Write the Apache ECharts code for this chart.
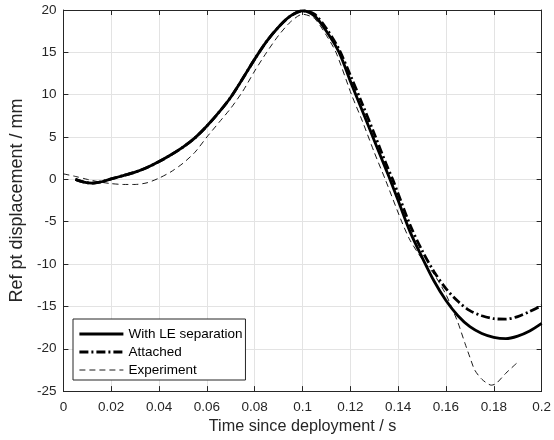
<!DOCTYPE html>
<html>
<head>
<meta charset="utf-8">
<script src="https://cdn.jsdelivr.net/npm/echarts@6/dist/echarts.min.js"></script>
<style>html,body{margin:0;padding:0;background:#fff;}#c{width:554px;height:440px;}</style>
</head>
<body>
<div id="c"></div>
<script>
var seriesNames = ['With LE separation', 'Attached', 'Experiment'];

var timeLE = [0.005,0.0085,0.012,0.016,0.02,0.025,0.03,0.035,0.04,0.045,0.05,0.055,0.06,0.065,0.07,0.075,0.08,0.085,0.09,0.095,0.1,0.105,0.11,0.1153,0.12,0.125,0.13,0.135,0.1366,0.14,0.145,0.15,0.155,0.16,0.165,0.17,0.175,0.18,0.185,0.19,0.195,0.2];
var dispLE = [0.0,-0.32,-0.45,-0.28,0.05,0.45,0.85,1.4,2.1,2.9,3.8,4.9,6.3,7.9,9.7,11.9,14.2,16.3,18.0,19.3,19.9,19.3,17.5,15.0,11.6,8.1,4.6,1.1,0.0,-2.5,-6.2,-9.2,-12.0,-14.3,-16.1,-17.4,-18.2,-18.65,-18.8,-18.5,-17.9,-17.0];

var timeAtt = [0.005,0.0085,0.012,0.016,0.02,0.025,0.03,0.035,0.04,0.045,0.05,0.055,0.06,0.065,0.07,0.075,0.08,0.085,0.09,0.095,0.1,0.105,0.11,0.115,0.12,0.125,0.13,0.135,0.1377,0.14,0.145,0.15,0.155,0.16,0.165,0.17,0.175,0.18,0.185,0.19,0.195,0.2];
var dispAtt = [0.0,-0.32,-0.45,-0.28,0.05,0.45,0.85,1.4,2.1,2.9,3.8,4.9,6.3,7.9,9.7,11.9,14.2,16.3,18.0,19.3,19.9,19.5,17.8,15.5,12.3,8.9,5.4,1.8,0.0,-1.7,-5.4,-8.4,-10.9,-12.9,-14.4,-15.5,-16.1,-16.45,-16.5,-16.2,-15.6,-14.9];

var timeExp = [0.0,0.005,0.01,0.015,0.02,0.025,0.03,0.035,0.04,0.045,0.05,0.055,0.06,0.065,0.07,0.075,0.08,0.085,0.09,0.095,0.1,0.105,0.11,0.114,0.1205,0.125,0.13,0.1346,0.1415,0.145,0.15,0.155,0.16,0.1628,0.165,0.168,0.17,0.172,0.175,0.179,0.181,0.185,0.1896];
var dispExp = [0.65,0.35,0.0,-0.3,-0.5,-0.6,-0.6,-0.4,0.15,0.9,1.9,3.2,5.0,6.7,8.4,10.4,12.8,15.0,17.0,18.6,19.5,19.0,17.0,15.0,10.0,6.9,3.2,0.0,-5.0,-7.2,-9.4,-11.2,-13.6,-15.4,-16.9,-19.4,-21.0,-22.5,-23.6,-24.3,-24.1,-22.9,-21.7];

var xMin = 0, xMax = 0.2, xStep = 0.02;
var yMin = -25, yMax = 20, yStep = 5;

function zip(a, b) { return a.map(function (v, i) { return [v, b[i]]; }); }

var axisColor = '#262626';
var gridColor = '#e3e3e3';
var font = 'Liberation Sans, Arial, Helvetica, sans-serif';
var hidden = 'rgba(0,0,0,0)';
var styleLE = { color: '#000', width: 2.8, type: 'solid' };
var styleAtt = { color: '#000', width: 2.8, type: [9, 3, 2, 3] };
var styleExp = { color: '#000', width: 0.9, type: [6, 4] };

var chart = echarts.init(document.getElementById('c'), null, { renderer: 'canvas' });
chart.setOption({
  animation: false,
  backgroundColor: '#ffffff',
  grid: { left: 62, right: 7, top: 10, bottom: 48, containLabel: false },
  legend: {
    orient: 'vertical',
    left: 73, top: 319,
    padding: [8, 3, 3, 5],
    itemGap: 4,
    itemWidth: 44,
    itemHeight: 15,
    backgroundColor: '#ffffff',
    borderColor: axisColor,
    borderWidth: 1,
    borderRadius: 0,
    itemStyle: { color: hidden, borderWidth: 0, opacity: 0 },
    textStyle: { fontFamily: font, fontSize: 13.5, color: '#000' },
    data: [
      { name: seriesNames[0], lineStyle: styleLE },
      { name: seriesNames[1], lineStyle: styleAtt },
      { name: seriesNames[2], lineStyle: styleExp }
    ]
  },
  xAxis: [{
    type: 'value', min: xMin, max: xMax, interval: xStep,
    name: 'Time since deployment / s', nameLocation: 'middle', nameGap: 26,
    nameTextStyle: { fontFamily: font, fontSize: 16.2, color: axisColor },
    axisLine: { show: true, onZero: false, lineStyle: { color: axisColor, width: 1 } },
    axisTick: { show: true, inside: true, length: 5, lineStyle: { color: axisColor } },
    axisLabel: { fontFamily: font, fontSize: 13.5, color: axisColor, margin: 9,
      formatter: function (v) { return String(parseFloat(v.toFixed(2))); } },
    splitLine: { show: true, lineStyle: { color: gridColor, width: 1 } }
  }, {
    type: 'value', position: 'top', min: xMin, max: xMax, interval: xStep,
    axisLine: { show: true, onZero: false, lineStyle: { color: axisColor, width: 1 } },
    axisTick: { show: true, inside: true, length: 5, lineStyle: { color: axisColor } },
    axisLabel: { show: false }, splitLine: { show: false }
  }],
  yAxis: [{
    type: 'value', min: yMin, max: yMax, interval: yStep,
    name: 'Ref pt displacement / mm', nameLocation: 'middle', nameGap: 34,
    nameTextStyle: { fontFamily: font, fontSize: 18, color: axisColor },
    axisLine: { show: true, onZero: false, lineStyle: { color: axisColor, width: 1 } },
    axisTick: { show: true, inside: true, length: 5, lineStyle: { color: axisColor } },
    axisLabel: { fontFamily: font, fontSize: 13.5, color: axisColor, margin: 7 },
    splitLine: { show: true, lineStyle: { color: gridColor, width: 1 } }
  }, {
    type: 'value', position: 'right', min: yMin, max: yMax, interval: yStep,
    axisLine: { show: true, onZero: false, lineStyle: { color: axisColor, width: 1 } },
    axisTick: { show: true, inside: true, length: 5, lineStyle: { color: axisColor } },
    axisLabel: { show: false }, splitLine: { show: false }
  }],
  series: [{
    name: seriesNames[0], type: 'line', data: zip(timeLE, dispLE),
    showSymbol: false, symbol: 'circle', smooth: 0.3, z: 3,
    lineStyle: styleLE, itemStyle: { color: hidden }
  }, {
    name: seriesNames[1], type: 'line', data: zip(timeAtt, dispAtt),
    showSymbol: false, symbol: 'circle', smooth: 0.3, z: 2,
    lineStyle: styleAtt, itemStyle: { color: hidden }
  }, {
    name: seriesNames[2], type: 'line', data: zip(timeExp, dispExp),
    showSymbol: false, symbol: 'circle', smooth: 0.25, z: 4,
    lineStyle: styleExp, itemStyle: { color: hidden }
  }]
});
</script>
</body>
</html>
